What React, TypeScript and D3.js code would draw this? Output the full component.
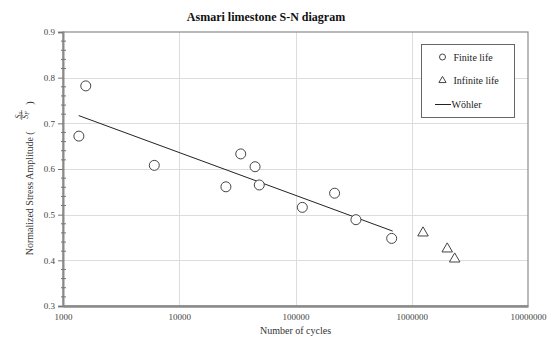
import React, { useEffect, useRef } from 'react';
import * as d3 from 'd3';

// Finite life test results (cycles, Sa/Sf)
const finiteCycles = [1370, 1570, 6100, 25200, 33800, 44900, 48800, 114500, 217000, 331000, 672000];
const finiteStress = [0.672, 0.782, 0.608, 0.561, 0.633, 0.605, 0.565, 0.516, 0.547, 0.489, 0.448];

// Run-outs (infinite life)
const infiniteCycles = [1250000, 2020000, 2340000];
const infiniteStress = [0.46, 0.425, 0.403];

// Wöhler fit endpoints
const wohlerCycles = [1365, 686000];
const wohlerStress = [0.717, 0.464];

const xTicks = [1000, 10000, 100000, 1000000, 10000000];
const yTicks = [0.3, 0.4, 0.5, 0.6, 0.7, 0.8, 0.9];
const legendLabels = ['Finite life', 'Infinite life', 'Wöhler'];

const App = () => {
  const ref = useRef<SVGSVGElement>(null);

  useEffect(() => {
    const svg = d3.select(ref.current);
    svg.selectAll('*').remove();

    const width = 552;
    const height = 338;
    const margin = { top: 32, right: 24, bottom: 32, left: 63 };
    const font = 'Liberation Serif, serif';

    const x = d3
      .scaleLog()
      .domain([1000, 10000000])
      .range([margin.left, width - margin.right]);
    const y = d3
      .scaleLinear()
      .domain([0.3, 0.9])
      .range([height - margin.bottom, margin.top]);

    svg.attr('width', width).attr('height', height).attr('font-family', font);
    svg.append('rect').attr('width', width).attr('height', height).attr('fill', '#fff');

    // gridlines
    const grid = svg.append('g').attr('stroke', '#dcdcdc').attr('stroke-width', 1);
    grid
      .selectAll('.vg')
      .data(xTicks.slice(1, -1))
      .enter()
      .append('line')
      .attr('x1', (d) => Math.round(x(d)) + 0.5)
      .attr('x2', (d) => Math.round(x(d)) + 0.5)
      .attr('y1', y(0.3))
      .attr('y2', y(0.9));
    grid
      .selectAll('.hg')
      .data(yTicks.slice(1, -1))
      .enter()
      .append('line')
      .attr('x1', x(1000))
      .attr('x2', x(10000000))
      .attr('y1', (d) => Math.round(y(d)) + 0.5)
      .attr('y2', (d) => Math.round(y(d)) + 0.5);

    // plot frame
    svg
      .append('rect')
      .attr('x', x(1000))
      .attr('y', y(0.9))
      .attr('width', x(10000000) - x(1000))
      .attr('height', y(0.3) - y(0.9))
      .attr('fill', 'none')
      .attr('stroke', '#8a8a8a')
      .attr('stroke-width', 1.2);

    // y axis
    const yAxis = svg
      .append('g')
      .attr('transform', `translate(${x(1000)},0)`)
      .call(
        d3
          .axisLeft(y)
          .tickValues(yTicks)
          .tickSize(5)
          .tickPadding(3)
          .tickFormat(d3.format('.1f'))
      );
    yAxis.attr('font-family', font);
    yAxis.select('.domain').attr('stroke', '#8a8a8a').attr('stroke-width', 2);
    yAxis.selectAll('line').attr('stroke', '#777');
    yAxis.selectAll('text').attr('font-size', 9).attr('fill', '#444');

    // y minor ticks
    const minor = d3.range(0.32, 0.9, 0.02).filter((v) => Math.abs(v * 10 - Math.round(v * 10)) > 0.01);
    svg
      .append('g')
      .selectAll('line')
      .data(minor)
      .enter()
      .append('line')
      .attr('x1', x(1000) - 2)
      .attr('x2', x(1000) + 3)
      .attr('y1', (d) => y(d))
      .attr('y2', (d) => y(d))
      .attr('stroke', '#777')
      .attr('stroke-width', 1);

    // x axis
    const xAxis = svg
      .append('g')
      .attr('transform', `translate(0,${y(0.3)})`)
      .call(
        d3
          .axisBottom(x)
          .tickValues(xTicks)
          .tickSize(0)
          .tickPadding(8)
          .tickFormat(d3.format('d'))
      );
    xAxis.attr('font-family', font);
    xAxis.select('.domain').attr('stroke', '#8a8a8a').attr('stroke-width', 2.5);
    xAxis.selectAll('text').attr('font-size', 9).attr('fill', '#444');

    // Wöhler line
    const line = d3
      .line<number>()
      .x((d, i) => x(wohlerCycles[i]))
      .y((d) => y(d));
    svg
      .append('path')
      .attr('d', line(wohlerStress))
      .attr('fill', 'none')
      .attr('stroke', '#222')
      .attr('stroke-width', 1);

    // finite life circles
    svg
      .selectAll('.finite')
      .data(finiteCycles)
      .enter()
      .append('circle')
      .attr('cx', (d) => x(d))
      .attr('cy', (d, i) => y(finiteStress[i]))
      .attr('r', 5)
      .attr('fill', '#fff')
      .attr('stroke', '#444')
      .attr('stroke-width', 1);

    // infinite life triangles
    const tri = d3.symbol().type(d3.symbolTriangle).size(48);
    svg
      .selectAll('.infinite')
      .data(infiniteCycles)
      .enter()
      .append('path')
      .attr('d', tri)
      .attr('transform', (d, i) => `translate(${x(d)},${y(infiniteStress[i])})`)
      .attr('fill', '#fff')
      .attr('stroke', '#444')
      .attr('stroke-width', 1);

    // title
    svg
      .append('text')
      .attr('x', 266)
      .attr('y', 21)
      .attr('text-anchor', 'middle')
      .attr('font-size', 12)
      .attr('font-weight', 'bold')
      .attr('fill', '#111')
      .text('Asmari limestone S-N diagram');

    // x label
    svg
      .append('text')
      .attr('x', x(100000))
      .attr('y', 334)
      .attr('text-anchor', 'middle')
      .attr('font-size', 10)
      .attr('fill', '#333')
      .text('Number of cycles');

    // y label with fraction (rotated: screen y = -rx, screen x = 33 + ry)
    const yl = svg.append('g').attr('transform', 'translate(33,0) rotate(-90)').attr('fill', '#333');
    yl.append('text')
      .attr('x', -137)
      .attr('y', 0)
      .attr('text-anchor', 'end')
      .attr('font-size', 10)
      .text('Normalized Stress Amplitude');
    yl.append('text').attr('x', -133).attr('y', 0).attr('text-anchor', 'middle').attr('font-size', 10).text('(');
    yl.append('text').attr('x', -103).attr('y', 0).attr('text-anchor', 'middle').attr('font-size', 10).text(')');
    const num = yl
      .append('text')
      .attr('x', -115)
      .attr('y', -12.5)
      .attr('text-anchor', 'middle')
      .attr('font-size', 8)
      .attr('font-style', 'italic')
      .text('S');
    num.append('tspan').attr('font-size', 6).attr('dy', 1.2).text('a');
    yl.append('line')
      .attr('x1', -120)
      .attr('x2', -110)
      .attr('y1', -11.3)
      .attr('y2', -11.3)
      .attr('stroke', '#333')
      .attr('stroke-width', 0.6);
    const den = yl
      .append('text')
      .attr('x', -115)
      .attr('y', -5.5)
      .attr('text-anchor', 'middle')
      .attr('font-size', 8)
      .attr('font-style', 'italic')
      .text('S');
    den.append('tspan').attr('font-size', 6).attr('dy', 1.2).text('F');

    // legend
    const lg = svg.append('g');
    lg.append('rect')
      .attr('x', 421.5)
      .attr('y', 44.5)
      .attr('width', 93)
      .attr('height', 73)
      .attr('fill', '#fff')
      .attr('stroke', '#666')
      .attr('stroke-width', 1);
    const rows = [57, 80.5, 104.5];
    lg.append('circle').attr('cx', 442.5).attr('cy', rows[0]).attr('r', 3).attr('fill', '#fff').attr('stroke', '#444');
    lg.append('path')
      .attr('d', d3.symbol().type(d3.symbolTriangle).size(22)())
      .attr('transform', `translate(442.5,${rows[1]})`)
      .attr('fill', '#fff')
      .attr('stroke', '#444');
    lg.append('line').attr('x1', 435).attr('x2', 451).attr('y1', rows[2]).attr('y2', rows[2]).attr('stroke', '#222');
    lg.selectAll('.lt')
      .data(legendLabels)
      .enter()
      .append('text')
      .attr('x', (d, i) => (i === 2 ? 451.5 : 453.5))
      .attr('y', (d, i) => rows[i] + 3.5)
      .attr('font-size', 10)
      .attr('fill', '#222')
      .text((d) => d);
  }, []);

  return <svg ref={ref} style={{ position: 'absolute', left: 0, top: 0 }} />;
};

export default App;
